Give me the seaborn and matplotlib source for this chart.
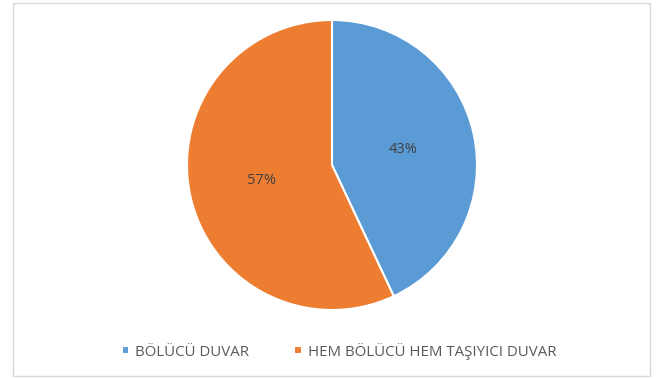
import matplotlib
matplotlib.use("Agg")
import matplotlib.pyplot as plt
import seaborn as sns
from matplotlib.patches import Rectangle

categories = ["BÖLÜCÜ DUVAR", "HEM BÖLÜCÜ HEM TAŞIYICI DUVAR"]
values = [43, 57]
colors = ["#5B9BD5", "#ED7D31"]

sns.set_theme(style="white")
plt.rcParams['font.family'] = ['Open Sans', 'DejaVu Sans']

W, H = 659, 378
fig = plt.figure(figsize=(W / 100, H / 100), dpi=100)
fig.patch.set_facecolor("white")

# chart border
fig.add_artist(Rectangle((13 / W, 1 - 376 / H), (650 - 13) / W, (376 - 3) / H,
                         transform=fig.transFigure, fill=False,
                         edgecolor="#d9d9d9", linewidth=1.0))

cx, cy, r = 332, 165, 145
ax = fig.add_axes([(cx - r) / W, 1 - (cy + r) / H, 2 * r / W, 2 * r / H])
wedges, texts, autotexts = ax.pie(
    values, colors=colors, startangle=90, counterclock=False,
    autopct="%1.0f%%", pctdistance=0.5,
    wedgeprops=dict(edgecolor="white", linewidth=1.5),
    textprops=dict(color="#404040", fontsize=10.5))
ax.set_xlim(-1, 1)
ax.set_ylim(-1, 1)
ax.set_aspect("equal")
ax.axis("off")

fig.legend(wedges, categories, loc="center", bbox_to_anchor=(339 / W, 1 - 351 / H),
           ncol=2, frameon=False, handlelength=0.5, handleheight=0.5,
           handletextpad=0.4, columnspacing=3.0,
           prop=dict(size=10.8), labelcolor="#595959")

fig.savefig("out.png", dpi=100, facecolor="white")
